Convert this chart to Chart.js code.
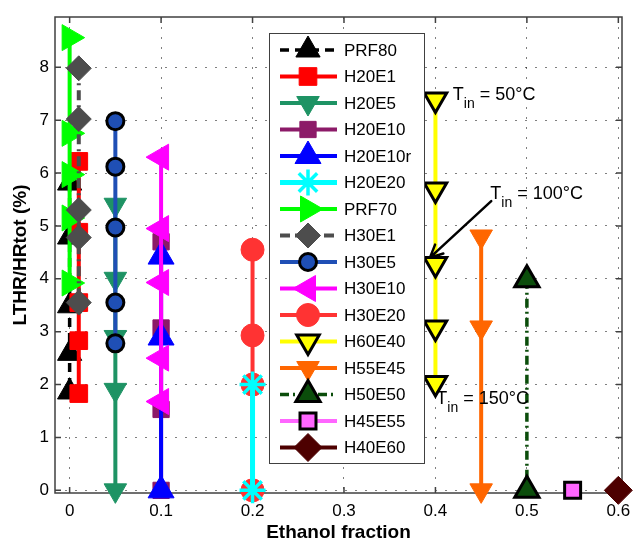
<!DOCTYPE html>
<html>
<head>
<meta charset="utf-8">
<script src="https://cdn.jsdelivr.net/npm/chart.js@4.4.0/dist/chart.umd.min.js"></script>
<style>
  html, body { margin: 0; padding: 0; background: #fff; }
</style>
</head>
<body>
<canvas id="myChart" width="639" height="545"></canvas>
<script>
// tick labels
const xTickValues = [0, 0.1, 0.2, 0.3, 0.4, 0.5, 0.6];
const yTickValues = [0, 1, 2, 3, 4, 5, 6, 7, 8];

// series names + ethanol fraction of each series
const seriesNames = ['PRF80', 'H20E1', 'H20E5', 'H20E10', 'H20E10r', 'H20E20', 'PRF70', 'H30E1',
  'H30E5', 'H30E10', 'H30E20', 'H60E40', 'H55E45', 'H50E50', 'H45E55', 'H40E60'];
const ethanolFraction = [0, 0.01, 0.05, 0.1, 0.1, 0.2, 0, 0.01, 0.05, 0.1, 0.2, 0.4, 0.45, 0.5, 0.55, 0.6];

// LTHR/HRtot (%) values, one array per series
const prf80 = [5.81, 4.79, 3.49, 2.59, 1.86];
const h20e1 = [6.22, 4.88, 3.55, 2.83, 1.83];
const h20e5 = [5.4, 4.0, 2.9, 1.9, 0];
const h20e10 = [4.7, 3.07, 1.53, 0];
const h20e10r = [4.42, 2.89, 0];
const h20e20 = [2.0, 0];
const prf70 = [8.56, 6.75, 5.97, 5.15, 3.92];
const h30e1 = [7.98, 7.02, 5.3, 4.78, 3.55];
const h30e5 = [6.98, 6.12, 4.97, 3.55, 2.78];
const h30e10 = [6.3, 4.95, 3.93, 2.5, 1.68];
const h30e20 = [4.55, 2.93, 2.0, 0];
const h60e40 = [7.39, 5.69, 4.28, 3.08, 2.03];
const h55e45 = [4.8, 3.08, 0];
const h50e50 = [3.98, 0];
const h45e55 = [0];
const h40e60 = [0];
const seriesValues = [prf80, h20e1, h20e5, h20e10, h20e10r, h20e20, prf70, h30e1,
  h30e5, h30e10, h30e20, h60e40, h55e45, h50e50, h45e55, h40e60];

// inlet temperature notes
const tinLabels = ['50°C', '100°C', '150°C'];
const tinX = [0.419, 0.46, 0.401];
const tinY = [7.39, 5.51, 1.63];
const arrowFrom = [0.461, 5.47];
const arrowTo = [0.394, 4.40];

const FONT = "'Liberation Sans', Arial, Helvetica, sans-serif";

// line / marker look of each series (same order as seriesNames)
const seriesStyles = [
  { line: '#000000', lw: 3.5, dash: [9, 6], marker: 'triangle', rot: 0, r: 14, fill: '#000000', edge: '#000000', ew: 1 },
  { line: '#ff0000', lw: 4, dash: [], marker: 'rect', rot: 0, r: 12.5, fill: '#ff0000', edge: '#ff0000', ew: 1 },
  { line: '#1e9364', lw: 4, dash: [], marker: 'triangle', rot: 180, r: 13, fill: '#1e9364', edge: '#1e9364', ew: 1 },
  { line: '#8c1a68', lw: 4, dash: [], marker: 'rect', rot: 0, r: 11.5, fill: '#8c1a68', edge: '#8c1a68', ew: 1 },
  { line: '#0000ff', lw: 4, dash: [], marker: 'triangle', rot: 0, r: 15, fill: '#0000ff', edge: '#0000ff', ew: 1 },
  { line: '#00ffff', lw: 5, dash: [], marker: 'star', rot: 0, r: 13, fill: '#00ffff', edge: '#00ffff', ew: 3.5 },
  { line: '#00ff00', lw: 4, dash: [], marker: 'triangle', rot: 90, r: 15, fill: '#00ff00', edge: '#00ff00', ew: 1 },
  { line: '#4d4d4d', lw: 4, dash: [10, 5, 2, 5], marker: 'rectRot', rot: 0, r: 12.5, fill: '#4d4d4d', edge: '#4d4d4d', ew: 1 },
  { line: '#1f4fb5', lw: 4, dash: [], marker: 'circle', rot: 0, r: 8.5, fill: '#1f4fb5', edge: '#000000', ew: 3 },
  { line: '#ff00ff', lw: 4, dash: [], marker: 'triangle', rot: 270, r: 15, fill: '#ff00ff', edge: '#ff00ff', ew: 1 },
  { line: '#ff3333', lw: 4, dash: [], marker: 'circle', rot: 0, r: 11.5, fill: '#ff3333', edge: '#ff3333', ew: 1 },
  { line: '#ffff00', lw: 4, dash: [], marker: 'triangle', rot: 180, r: 13, fill: '#ffff00', edge: '#000000', ew: 3 },
  { line: '#ff6600', lw: 4, dash: [], marker: 'triangle', rot: 180, r: 13, fill: '#ff6600', edge: '#ff6600', ew: 1 },
  { line: '#0b4d0b', lw: 3.5, dash: [9, 4, 2, 4], marker: 'triangle', rot: 0, r: 14, fill: '#0b4d0b', edge: '#000000', ew: 3 },
  { line: '#ff66ff', lw: 4, dash: [], marker: 'rect', rot: 0, r: 11.3, fill: '#ff66ff', edge: '#000000', ew: 3 },
  { line: '#4d0000', lw: 4, dash: [], marker: 'rectRot', rot: 0, r: 14, fill: '#4d0000', edge: '#4d0000', ew: 1 }
];

const N = seriesNames.length;
const datasets = seriesNames.map(function (name, i) {
  const s = seriesStyles[i];
  return {
    label: name,
    data: seriesValues[i].map(v => ({ x: ethanolFraction[i], y: v })),
    showLine: true,
    borderColor: s.line,
    borderWidth: s.lw,
    borderDash: s.dash,
    pointStyle: s.marker,
    pointRotation: s.rot,
    pointRadius: s.r,
    pointHoverRadius: s.r,
    pointBackgroundColor: s.fill,
    pointBorderColor: s.edge,
    pointBorderWidth: s.ew,
    clip: false,
    // later series on top (matlab order), H20E20 stars above the red circles
    order: name === 'H20E20' ? -1 : N - i
  };
});

// box + inward ticks
const framePlugin = {
  id: 'frame',
  beforeDatasetsDraw(chart) {
    const { ctx, chartArea: a, scales } = chart;
    ctx.save();
    ctx.strokeStyle = '#404040';
    ctx.lineWidth = 1.5;
    ctx.strokeRect(a.left, a.top, a.right - a.left, a.bottom - a.top);
    ctx.beginPath();
    xTickValues.forEach(v => {
      const px = scales.x.getPixelForValue(v);
      ctx.moveTo(px, a.bottom); ctx.lineTo(px, a.bottom - 6);
      ctx.moveTo(px, a.top); ctx.lineTo(px, a.top + 6);
    });
    yTickValues.forEach(v => {
      const py = scales.y.getPixelForValue(v);
      ctx.moveTo(a.left, py); ctx.lineTo(a.left + 6, py);
      ctx.moveTo(a.right, py); ctx.lineTo(a.right - 6, py);
    });
    ctx.stroke();
    ctx.restore();
  }
};

const tinPlugin = {
  id: 'tinNotes',
  afterDatasetsDraw(chart) {
    const { ctx, scales: { x, y } } = chart;
    ctx.save();
    ctx.fillStyle = '#000';
    ctx.textAlign = 'left';
    ctx.textBaseline = 'alphabetic';
    tinLabels.forEach((t, i) => {
      let px = x.getPixelForValue(tinX[i]);
      const py = y.getPixelForValue(tinY[i]);
      ctx.font = '18px ' + FONT;
      ctx.fillText('T', px, py);
      px += ctx.measureText('T').width;
      ctx.font = '14px ' + FONT;
      ctx.fillText('in', px, py + 8);
      px += ctx.measureText('in').width;
      ctx.font = '18px ' + FONT;
      ctx.fillText(' = ' + t, px, py);
    });

    // arrow to the 100°C point
    const x0 = x.getPixelForValue(arrowFrom[0]), y0 = y.getPixelForValue(arrowFrom[1]);
    const x1 = x.getPixelForValue(arrowTo[0]), y1 = y.getPixelForValue(arrowTo[1]);
    const ang = Math.atan2(y1 - y0, x1 - x0);
    ctx.strokeStyle = '#000';
    ctx.lineWidth = 2.5;
    ctx.lineCap = 'round';
    ctx.beginPath();
    ctx.moveTo(x0, y0); ctx.lineTo(x1, y1);
    ctx.moveTo(x1, y1); ctx.lineTo(x1 - 14 * Math.cos(ang - 0.45), y1 - 14 * Math.sin(ang - 0.45));
    ctx.moveTo(x1, y1); ctx.lineTo(x1 - 14 * Math.cos(ang + 0.45), y1 - 14 * Math.sin(ang + 0.45));
    ctx.stroke();
    ctx.restore();
  }
};

const legendPlugin = {
  id: 'boxLegend',
  afterDatasetsDraw(chart) {
    const ctx = chart.ctx;
    ctx.save();
    ctx.fillStyle = '#fff';
    ctx.fillRect(269, 33, 155, 430);
    ctx.strokeStyle = '#404040';
    ctx.lineWidth = 1;
    ctx.strokeRect(269.5, 33.5, 155, 430);
    chart.data.datasets.forEach((ds, i) => {
      const ly = 50 + i * 26.5;
      ctx.setLineDash(ds.borderDash);
      ctx.strokeStyle = ds.borderColor;
      ctx.lineWidth = ds.borderWidth;
      ctx.beginPath();
      ctx.moveTo(280, ly); ctx.lineTo(337, ly);
      ctx.stroke();
      ctx.setLineDash([]);
      ctx.fillStyle = ds.pointBackgroundColor;
      ctx.strokeStyle = ds.pointBorderColor;
      ctx.lineWidth = ds.pointBorderWidth;
      Chart.helpers.drawPoint(ctx, {
        pointStyle: ds.pointStyle, rotation: ds.pointRotation,
        radius: ds.pointRadius, borderWidth: ds.pointBorderWidth
      }, 308, ly);
      ctx.fillStyle = '#000';
      ctx.font = '17px ' + FONT;
      ctx.textAlign = 'left';
      ctx.textBaseline = 'middle';
      ctx.fillText(ds.label, 344, ly + 1);
    });
    ctx.restore();
  }
};

const ctx = document.getElementById('myChart');
const myChart = new Chart(ctx, {
  type: 'scatter',
  data: { datasets: datasets },
  options: {
    responsive: false,
    animation: false,
    events: [],
    layout: { padding: { left: 0, right: 10, top: 7, bottom: 0 } },
    plugins: { legend: { display: false }, tooltip: { enabled: false } },
    scales: {
      x: {
        type: 'linear',
        min: -0.016,
        max: 0.604,
        afterBuildTicks: s => { s.ticks = xTickValues.map(v => ({ value: v })); },
        afterFit: s => { s.height = 52; },
        ticks: { font: { family: FONT, size: 17 }, color: '#000', padding: 8, autoSkip: false, maxRotation: 0,
          callback: v => String(v) },
        grid: { color: 'rgba(0,0,0,0.5)', lineWidth: 1, drawTicks: false },
        border: { display: false, dash: [2, 8] },
        title: { display: true, text: 'Ethanol fraction', color: '#000',
          font: { family: FONT, size: 19, weight: 'bold' }, padding: { top: 0, bottom: 1 } }
      },
      y: {
        type: 'linear',
        min: -0.05,
        max: 8.95,
        afterBuildTicks: s => { s.ticks = yTickValues.map(v => ({ value: v })); },
        afterFit: s => { s.width = 55; },
        ticks: { font: { family: FONT, size: 17 }, color: '#000', padding: 6, autoSkip: false,
          callback: v => String(v) },
        grid: { color: 'rgba(0,0,0,0.5)', lineWidth: 1, drawTicks: false },
        border: { display: false, dash: [2, 8] },
        title: { display: true, text: 'LTHR/HRtot (%)', color: '#000',
          font: { family: FONT, size: 19, weight: 'bold' }, padding: { top: 9, bottom: 0 } }
      }
    }
  },
  plugins: [framePlugin, tinPlugin, legendPlugin]
});
</script>
</body>
</html>
